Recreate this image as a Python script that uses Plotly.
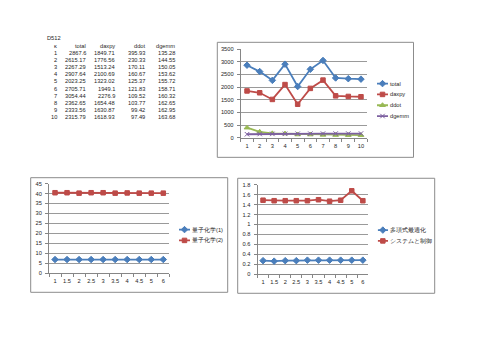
import plotly.graph_objects as go

W, H = 500, 354
def X(px): return px / W
def Y(py): return 1 - py / H

# ---------------- data ----------------
table_title = "D512"
table_header = ["κ", "total", "daxpy", "ddot", "dgemm"]
k_vals = [1, 2, 3, 4, 5, 6, 7, 8, 9, 10]
total = [2867.6, 2615.17, 2267.29, 2907.64, 2023.25, 2705.71, 3054.44, 2362.65, 2333.56, 2315.79]
daxpy = [1849.71, 1776.56, 1513.24, 2100.69, 1323.02, 1949.1, 2276.9, 1654.48, 1630.87, 1618.93]
ddot = [395.93, 230.33, 170.11, 160.67, 125.37, 121.83, 109.52, 103.77, 99.42, 97.49]
dgemm = [135.28, 144.55, 150.05, 153.62, 155.72, 158.71, 160.32, 162.65, 162.95, 163.68]

cat2 = ["1", "1.5", "2", "2.5", "3", "3.5", "4", "4.5", "5", "6"]
chem1 = [6.8, 6.8, 6.8, 6.8, 6.8, 6.8, 6.8, 6.8, 6.8, 6.8]
chem2 = [40.4, 40.4, 40.2, 40.4, 40.4, 40.2, 40.3, 40.2, 40.2, 40.2]
chem_names = ["量子化学(1)", "量子化学(2)"]

poly = [0.27, 0.26, 0.27, 0.27, 0.28, 0.28, 0.28, 0.28, 0.28, 0.28]
sysctl = [1.49, 1.48, 1.48, 1.48, 1.48, 1.50, 1.47, 1.49, 1.68, 1.48]
poly_names = ["多項式最適化", "システムと制御"]

names1 = ["total", "daxpy", "ddot", "dgemm"]

# ---------------- styles ----------------
BLUE, RED, GREEN, PURPLE = "#4A7EBB", "#BE4B48", "#98B954", "#7D60A0"
FONT = "Liberation Sans, Arial, sans-serif"
FS = 5.7
TXT = "#262626"
AX = "#868686"
GRID = "#9a9a9a"

styles1 = [
    (BLUE, "diamond", 5),
    (RED, "square", 4.5),
    (GREEN, "triangle-up", 5),
    (PURPLE, "x-thin-open", 4.5),
]
styles2 = [(BLUE, "diamond", 5), (RED, "square", 4.5)]

fig = go.Figure()

def add_series(x, y, color, symbol, size, xa, ya, name):
    mk = dict(color=color, symbol=symbol, size=size, line=dict(color=color, width=1))
    fig.add_trace(go.Scatter(x=x, y=y, mode="lines+markers", name=name,
                             line=dict(color=color, width=1.8), marker=mk,
                             xaxis=xa, yaxis=ya, showlegend=False))

def add_legend_key(names, styles, xa, ya):
    for nm, (color, symbol, size) in zip(names, styles):
        fig.add_trace(go.Scatter(x=[0, 1], y=[nm, nm], mode="lines",
                                 line=dict(color=color, width=1.8),
                                 xaxis=xa, yaxis=ya, showlegend=False, hoverinfo="skip"))
        fig.add_trace(go.Scatter(x=[0.5], y=[nm], mode="markers",
                                 marker=dict(color=color, symbol=symbol, size=size,
                                             line=dict(color=color, width=1)),
                                 xaxis=xa, yaxis=ya, showlegend=False, hoverinfo="skip"))

# chart 1
xk = [str(v) for v in k_vals]
for ys, nm, st in zip([total, daxpy, ddot, dgemm], names1, styles1):
    add_series(xk, ys, st[0], st[1], st[2], "x", "y", nm)
# chart 2
for ys, nm, st in zip([chem1, chem2], chem_names, styles2):
    add_series(cat2, ys, st[0], st[1], st[2], "x2", "y2", nm)
# chart 3
for ys, nm, st in zip([poly, sysctl], poly_names, styles2):
    add_series(cat2, ys, st[0], st[1], st[2], "x3", "y3", nm)

# legends
add_legend_key(names1, styles1, "x4", "y4")
add_legend_key(chem_names, styles2, "x5", "y5")
add_legend_key(poly_names, styles2, "x6", "y6")

tickfont = dict(family=FONT, size=FS, color=TXT)

def xcat(domain, anchor, cats):
    return dict(domain=domain, anchor=anchor, type="category", categoryarray=cats,
                range=[-0.5, len(cats) - 0.5], showline=True, linecolor=AX, linewidth=1,
                ticks="outside", ticklen=3, tickcolor=AX, tickson="boundaries",
                showgrid=False, zeroline=False, tickfont=tickfont, fixedrange=True,
                tickangle=0, ticklabelstandoff=2)

def ylin(domain, anchor, rng, dtick):
    return dict(domain=domain, anchor=anchor, range=rng, dtick=dtick, showline=True,
                linecolor=AX, linewidth=1, ticks="outside", ticklen=3, tickcolor=AX,
                showgrid=True, gridcolor=GRID, gridwidth=1, zeroline=False,
                tickfont=tickfont, fixedrange=True, ticklabelstandoff=2)

def xleg(domain, anchor):
    return dict(domain=domain, anchor=anchor, range=[0, 1], visible=False, fixedrange=True)

def yleg(domain, anchor, names):
    n = len(names)
    return dict(domain=domain, anchor=anchor, type="category", categoryarray=names,
                range=[n - 0.5, -0.5], side="right", showline=False, showgrid=False,
                zeroline=False, ticks="", tickfont=tickfont, ticklabelstandoff=1,
                fixedrange=True)

layout = dict(
    width=W, height=H, margin=dict(l=0, r=0, t=0, b=0),
    paper_bgcolor="white", plot_bgcolor="white",
    font=dict(family=FONT, size=FS, color=TXT),
    showlegend=False,
    xaxis=xcat([X(240.7), X(367.3)], "y", xk),
    yaxis=ylin([Y(137), Y(47)], "x", [0, 3500], 500),
    xaxis2=xcat([X(49), X(169.3)], "y2", cat2),
    yaxis2=ylin([Y(274.7), Y(183.7)], "x2", [0, 45], 5),
    xaxis3=xcat([X(257.5), X(368.4)], "y3", cat2),
    yaxis3=ylin([Y(275.7), Y(185)], "x3", [0, 1.8], 0.2),
    xaxis4=xleg([X(377), X(388)], "y4"),
    yaxis4=yleg([Y(120.5), Y(76.5)], "x4", names1),
    xaxis5=xleg([X(179), X(190)], "y5"),
    yaxis5=yleg([Y(247), Y(225)], "x5", chem_names),
    xaxis6=xleg([X(377.7), X(388)], "y6"),
    yaxis6=yleg([Y(247.5), Y(225.5)], "x6", poly_names),
)
fig.update_layout(**layout)

# chart frames
for (x0, y0, x1, y1) in [(217.3, 40, 413.5, 157), (30.7, 177.7, 227.7, 294.3), (237.7, 178.3, 434.7, 295.3)]:
    fig.add_shape(type="rect", xref="paper", yref="paper",
                  x0=X(x0), x1=X(x1), y0=Y(y0), y1=Y(y1),
                  line=dict(color="#8c8c8c", width=1), fillcolor="rgba(0,0,0,0)", layer="below")

# table
anns = []
anns.append(dict(x=X(45), y=Y(35.7), text=table_title, xanchor="left", yanchor="middle",
                 showarrow=False, xref="paper", yref="paper", font=dict(size=FS, color=TXT)))
col_right = [58.5, 88.3, 117.3, 147, 176.7]
for cx, h in zip(col_right, table_header):
    anns.append(dict(x=X(cx), y=Y(43.3), text=h, xanchor="right", yanchor="middle",
                     showarrow=False, xref="paper", yref="paper", font=dict(size=FS, color=TXT)))
row_y0, row_step = 50.7, 7.26
for i in range(len(k_vals)):
    row = [k_vals[i], total[i], daxpy[i], ddot[i], dgemm[i]]
    for cx, v in zip(col_right, row):
        anns.append(dict(x=X(cx), y=Y(row_y0 + i * row_step), text=str(v), xanchor="right",
                         yanchor="middle", showarrow=False, xref="paper", yref="paper",
                         font=dict(size=FS, color=TXT)))
fig.update_layout(annotations=anns)

fig.write_html("out.html")
